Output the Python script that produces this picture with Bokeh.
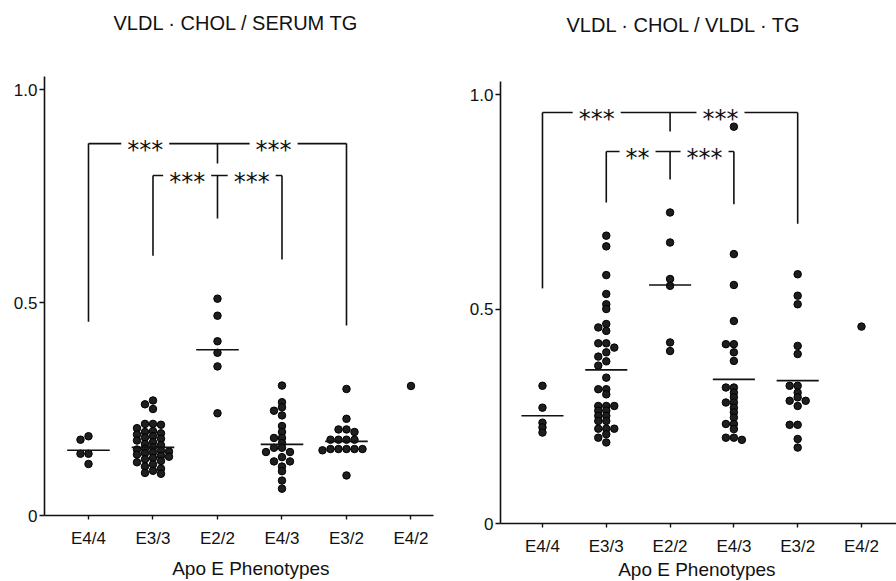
from bokeh.plotting import figure
from bokeh.layouts import row
from bokeh.models import FixedTicker, Range1d, Label, Title
from bokeh.embed import file_html
from bokeh.resources import INLINE

# ---------------- data ----------------
phenotypes = ["E4/4", "E3/3", "E2/2", "E4/3", "E3/2", "E4/2"]

# Panel 1: VLDL-CHOL / SERUM TG
serum_e44 = [0.186, 0.178, 0.145, 0.145, 0.121]
serum_e33 = [0.270, 0.261, 0.250, 0.215, 0.215, 0.213, 0.205, 0.198, 0.196, 0.193,
             0.190, 0.186, 0.183, 0.180, 0.176, 0.172, 0.168, 0.165, 0.160, 0.157,
             0.155, 0.152, 0.150, 0.148, 0.146, 0.143, 0.140, 0.138, 0.135, 0.132,
             0.128, 0.125, 0.120, 0.115, 0.110, 0.105, 0.100, 0.098]
serum_e22 = [0.509, 0.469, 0.409, 0.382, 0.350, 0.240]
serum_e43 = [0.305, 0.266, 0.254, 0.246, 0.235, 0.210, 0.196, 0.182, 0.182, 0.170,
             0.159, 0.159, 0.149, 0.149, 0.137, 0.127, 0.127, 0.115, 0.104, 0.082, 0.063]
serum_e32 = [0.297, 0.227, 0.202, 0.202, 0.196, 0.178, 0.178, 0.178, 0.178, 0.156,
             0.156, 0.156, 0.156, 0.156, 0.153, 0.094]
serum_e42 = [0.304]
serum_means = [0.153, 0.160, 0.389, 0.167, 0.174, None]

# Panel 2: VLDL-CHOL / VLDL-TG
vldl_e44 = [0.321, 0.270, 0.235, 0.224, 0.212]
vldl_e33 = [0.671, 0.646, 0.579, 0.535, 0.511, 0.500, 0.465, 0.457, 0.449, 0.420,
            0.420, 0.410, 0.399, 0.389, 0.378, 0.368, 0.340, 0.313, 0.313, 0.301,
            0.274, 0.274, 0.274, 0.263, 0.263, 0.251, 0.251, 0.239, 0.239, 0.221,
            0.221, 0.221, 0.208, 0.200, 0.189]
vldl_e22 = [0.725, 0.655, 0.570, 0.554, 0.422, 0.402]
vldl_e43 = [0.925, 0.628, 0.556, 0.472, 0.418, 0.418, 0.399, 0.379, 0.317, 0.317,
            0.305, 0.294, 0.282, 0.282, 0.270, 0.259, 0.247, 0.232, 0.232, 0.220,
            0.200, 0.200, 0.195]
vldl_e32 = [0.581, 0.531, 0.511, 0.414, 0.395, 0.321, 0.321, 0.305, 0.294, 0.286,
            0.286, 0.274, 0.230, 0.230, 0.197, 0.177]
vldl_e42 = [0.459]
vldl_means = [0.251, 0.358, 0.556, 0.336, 0.333, None]

# significance brackets
serum_br_from = ["E4/4", "E3/3"]
serum_br_to = ["E3/2", "E4/3"]
serum_br_hub = ["E2/2", "E2/2"]
serum_br_level = [0.873, 0.798]
serum_br_from_end = [0.455, 0.610]
serum_br_to_end = [0.446, 0.601]
serum_br_hub_end = [0.826, 0.697]
serum_br_marks = [["***", "***"], ["***", "***"]]
serum_br_mark_x = [[1.88, 3.87], [2.53, 3.53]]

vldl_br_from = ["E4/4", "E3/3"]
vldl_br_to = ["E3/2", "E4/3"]
vldl_br_hub = ["E2/2", "E2/2"]
vldl_br_level = [0.958, 0.867]
vldl_br_from_end = [0.548, 0.748]
vldl_br_to_end = [0.699, 0.744]
vldl_br_hub_end = [0.914, 0.802]
vldl_br_marks = [["***", "***"], ["**", "***"]]
vldl_br_mark_x = [[1.85, 3.79], [2.49, 3.54]]

FONT = "Liberation Sans"
STAR_FONT = "DejaVu Sans"
STAR_PX = 24
INK = "#111111"


def swarm(vals, ppx, ppy, step=8.0, min_dy=4.6):
    placed = []
    out = []
    order = [0, -1, 1, -2, 2, -3, 3, -4, 4, -5, 5]
    for v in vals:
        y = v * ppy
        col = order[-1]
        for c in order:
            if all(not (pc == c and abs(py - y) < min_dy) for pc, py in placed):
                col = c
                break
        placed.append((col, y))
        out.append(col * step / ppx)
    return out


def make_panel(title, groups, means, br, x_start, ppx, frame_w, y_end, ppy, frame_h,
               border_left, border_right, border_top, border_bottom, title_offset,
               title_standoff, x_bound_end, xlabel_standoff):
    x_end = x_start + frame_w / ppx
    p = figure(frame_width=frame_w, frame_height=frame_h,
               x_range=Range1d(x_start, x_end), y_range=Range1d(0, y_end),
               output_backend="svg", toolbar_location=None,
               min_border_left=border_left, min_border_right=border_right,
               min_border_top=border_top, min_border_bottom=border_bottom)
    p.title.text = title
    p.title.align = "left"
    p.title.offset = title_offset
    p.title.text_font = FONT
    p.title.text_font_size = "20px"
    p.title.text_font_style = "normal"
    p.title.text_color = INK
    if "standoff" in Title.properties():
        p.title.standoff = title_standoff
    p.xgrid.grid_line_color = None
    p.ygrid.grid_line_color = None
    p.outline_line_color = None
    p.background_fill_color = "white"

    # axes
    p.xaxis.ticker = FixedTicker(ticks=list(range(1, len(phenotypes) + 1)))
    p.xaxis.major_label_overrides = {i + 1: n for i, n in enumerate(phenotypes)}
    p.yaxis.ticker = FixedTicker(ticks=[0, 0.5, 1.0])
    p.yaxis.major_label_overrides = {0: "0", 0.5: "0.5", 1: "1.0"}
    p.xaxis.axis_label = "Apo E  Phenotypes"
    for ax in (p.xaxis, p.yaxis):
        ax.axis_line_width = 1.6
        ax.axis_line_color = INK
        ax.major_tick_line_width = 1.4
        ax.major_tick_line_color = INK
        ax.major_tick_in = 0
        ax.minor_tick_line_color = None
        ax.major_label_text_font = FONT
        ax.major_label_text_font_size = "17px"
        ax.major_label_text_color = INK
        ax.axis_label_text_font = FONT
        ax.axis_label_text_font_size = "19px"
        ax.axis_label_text_font_style = "normal"
        ax.axis_label_text_color = INK
    p.xaxis.major_tick_out = 4
    p.yaxis.major_tick_out = 5
    p.xaxis.major_label_standoff = 9
    p.yaxis.major_label_standoff = 2
    p.xaxis.axis_label_standoff = xlabel_standoff
    p.yaxis.bounds = (0, 1.03)
    if x_bound_end is not None:
        p.xaxis.bounds = (x_start, x_bound_end)

    # dots
    xs, ys = [], []
    for i, vals in enumerate(groups):
        offs = swarm(vals, ppx, ppy)
        xs += [i + 1 + o for o in offs]
        ys += list(vals)
    p.scatter(xs, ys, size=7.5, fill_color="#1e1e1e", line_color="#000000", line_width=1)

    # mean lines
    mx0, mx1, my = [], [], []
    for i, m in enumerate(means):
        if m is not None:
            mx0.append(i + 1 - 0.33)
            mx1.append(i + 1 + 0.33)
            my.append(m)
    p.segment(mx0, my, mx1, my, line_color=INK, line_width=1.6)

    # brackets
    (b_from, b_to, b_hub, b_level, b_from_end, b_to_end, b_hub_end, b_marks, b_mark_x) = br
    sx0, sy0, sx1, sy1 = [], [], [], []
    for k in range(len(b_from)):
        xa = phenotypes.index(b_from[k]) + 1
        xb = phenotypes.index(b_to[k]) + 1
        xh = phenotypes.index(b_hub[k]) + 1
        lv = b_level[k]
        for xx, ye in ((xa, b_from_end[k]), (xb, b_to_end[k]), (xh, b_hub_end[k])):
            sx0.append(xx); sy0.append(lv); sx1.append(xx); sy1.append(ye)
        gaps = []
        for mk, mxp in zip(b_marks[k], b_mark_x[k]):
            half = (len(mk) * 0.5 * STAR_PX / 2 + 6) / ppx
            gaps.append((mxp - half, mxp + half))
            p.add_layout(Label(x=mxp, y=lv, text=mk, text_font=STAR_FONT,
                               text_font_size=f"{STAR_PX}px", text_align="center",
                               text_baseline="alphabetic", y_offset=-6,
                               text_color=INK))
        gaps.sort()
        cur = xa
        for g0, g1 in gaps:
            sx0.append(cur); sy0.append(lv); sx1.append(g0); sy1.append(lv)
            cur = g1
        sx0.append(cur); sy0.append(lv); sx1.append(xb); sy1.append(lv)
    p.segment(sx0, sy0, sx1, sy1, line_color=INK, line_width=1.6)
    return p


left = make_panel("VLDL · CHOL / SERUM TG",
                  [serum_e44, serum_e33, serum_e22, serum_e43, serum_e32, serum_e42],
                  serum_means,
                  (serum_br_from, serum_br_to, serum_br_hub, serum_br_level,
                   serum_br_from_end, serum_br_to_end, serum_br_hub_end,
                   serum_br_marks, serum_br_mark_x),
                  x_start=0.318, ppx=64.5, frame_w=418, y_end=477 / 426, ppy=426,
                  frame_h=477, border_left=44, border_right=4, border_top=38,
                  border_bottom=60, title_offset=69, title_standoff=9,
                  x_bound_end=6.35, xlabel_standoff=7)

right = make_panel("VLDL · CHOL / VLDL · TG",
                   [vldl_e44, vldl_e33, vldl_e22, vldl_e43, vldl_e32, vldl_e42],
                   vldl_means,
                   (vldl_br_from, vldl_br_to, vldl_br_hub, vldl_br_level,
                    vldl_br_from_end, vldl_br_to_end, vldl_br_hub_end,
                    vldl_br_marks, vldl_br_mark_x),
                   x_start=0.342, ppx=63.8, frame_w=398, y_end=485 / 429, ppy=429,
                   frame_h=485, border_left=30, border_right=0, border_top=36,
                   border_bottom=54, title_offset=66, title_standoff=5,
                   x_bound_end=None, xlabel_standoff=0)

layout = row(left, right)
open("out.html", "w").write(file_html(layout, INLINE))
